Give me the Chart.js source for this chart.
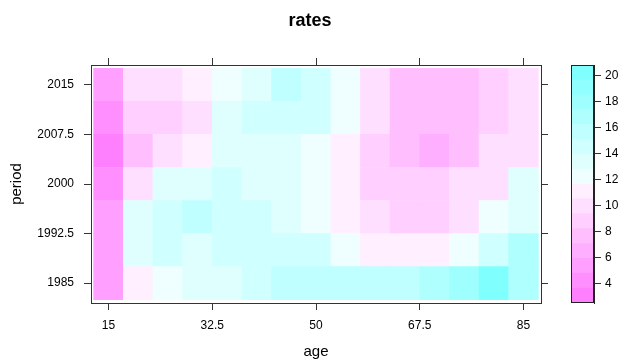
<!DOCTYPE html>
<html>
<head>
<meta charset="utf-8">
<script src="https://cdn.jsdelivr.net/npm/chart.js@4/dist/chart.umd.min.js"></script>
<style>
html, body { margin: 0; padding: 0; background: #fff; }
#wrap { position: relative; width: 620px; height: 363px; }
#main { position: absolute; left: 0; top: 0; }
#key { position: absolute; left: 571px; top: 0; }
</style>
</head>
<body>
<div id="wrap">
  <canvas id="main" width="620" height="363"></canvas>
  <canvas id="key" width="49" height="363"></canvas>
</div>
<script>
const ages = [15, 20, 25, 30, 35, 40, 45, 50, 55, 60, 65, 70, 75, 80, 85]
const periods = [1985, 1990, 1995, 2000, 2005, 2010, 2015]

// rates by age, one array per period
const rates1985 = [5.6, 11.0, 12.2, 13.4, 13.3, 14.6, 15.6, 15.8, 15.7, 15.8, 15.9, 16.7, 18.1, 20.2, 16.8]
const rates1990 = [5.4, 13.3, 14.6, 13.5, 14.5, 14.4, 14.7, 14.4, 12.3, 11.1, 11.0, 11.2, 12.1, 14.7, 16.9]
const rates1995 = [5.5, 13.4, 14.4, 15.8, 14.5, 14.6, 13.3, 12.3, 11.2, 10.0, 8.8, 8.9, 10.1, 12.2, 13.4]
const rates2000 = [4.1, 10.0, 13.4, 13.1, 14.6, 13.4, 13.2, 12.2, 11.0, 8.9, 8.7, 8.8, 9.9, 10.2, 13.5]
const rates2005 = [3.2, 7.8, 9.8, 11.2, 13.3, 13.5, 13.2, 12.3, 11.1, 8.8, 7.6, 6.6, 7.8, 10.1, 9.9]
const rates2010 = [4.3, 8.7, 8.9, 10.1, 13.5, 14.4, 14.7, 14.5, 12.4, 9.9, 7.7, 7.9, 7.6, 8.6, 10.0]
const rates2015 = [5.3, 9.9, 10.2, 11.0, 12.3, 13.2, 15.6, 14.6, 12.1, 10.1, 7.6, 7.8, 7.5, 8.9, 9.8]
const rateRows = [rates1985, rates1990, rates1995, rates2000, rates2005, rates2010, rates2015]

const ageTicks = [15, 32.5, 50, 67.5, 85]
const periodTicks = [1985, 1992.5, 2000, 2007.5, 2015]
const keyTicks = [4, 6, 8, 10, 12, 14, 16, 18, 20]
const keyMin = 2.52
const keyMax = 20.82
const keyBins = 16

const binWidth = (keyMax - keyMin) / keyBins

// reversed cm.colors: magenta (low) -> white -> cyan (high)
const binColor = k => {
  if (k < keyBins / 2) {
    const s = 0.5 - k * (0.5 / (keyBins / 2))
    const g = Math.round(255 * (1 - s))
    return `rgb(255,${g},255)`
  }
  const s = (k - (keyBins / 2 - 1)) * (0.5 / (keyBins / 2))
  const r = Math.round(255 * (1 - s))
  return `rgb(${r},255,255)`
}
const rateColor = v => {
  const k = Math.min(keyBins - 1, Math.max(0, Math.floor((v - keyMin) / binWidth)))
  return binColor(k)
}

Chart.defaults.font.family = '"Liberation Sans", Arial, sans-serif'
Chart.defaults.color = '#000'
Chart.defaults.animation = false

const frameColor = '#333'
const tickLabel = v => String(v)

const edgeGrid = {
  drawOnChartArea: false,
  drawTicks: true,
  tickLength: 7,
  tickColor: frameColor,
  tickWidth: 1,
  offset: false
}

new Chart(document.getElementById('main'), {
  type: 'bar',
  data: {
    datasets: rateRows.map((row, j) => ({
      label: String(periods[j]),
      data: ages.map(a => ({ x: a, y: [periods[j] - 2.5, periods[j] + 2.5] })),
      backgroundColor: row.map(rateColor),
      borderWidth: 0,
      grouped: false,
      barPercentage: 1,
      categoryPercentage: 1
    }))
  },
  options: {
    responsive: false,
    layout: { padding: 0 },
    plugins: {
      legend: { display: false },
      tooltip: { enabled: false },
      title: {
        display: true,
        text: 'rates',
        color: '#000',
        font: { size: 18, weight: 'bold' },
        padding: { top: 10, bottom: 4 }
      }
    },
    scales: {
      x: {
        type: 'linear',
        position: 'bottom',
        min: 12.05,
        max: 87.95,
        offset: false,
        afterBuildTicks: s => { s.ticks = ageTicks.map(v => ({ value: v })) },
        afterFit: s => { s.height = 60 },
        ticks: { callback: tickLabel, font: { size: 12 }, padding: 8, maxRotation: 0, autoSkip: false },
        grid: edgeGrid,
        border: { display: true, color: frameColor, width: 1 },
        title: { display: true, text: 'age', font: { size: 15 }, padding: { top: 0, bottom: 2 } }
      },
      x2: {
        type: 'linear',
        position: 'top',
        min: 12.05,
        max: 87.95,
        offset: false,
        afterBuildTicks: s => { s.ticks = ageTicks.map(v => ({ value: v })) },
        afterFit: s => { s.height = 29.4 },
        ticks: { display: false },
        grid: edgeGrid,
        border: { display: true, color: frameColor, width: 1 }
      },
      y: {
        type: 'linear',
        position: 'left',
        min: 1982.0,
        max: 2018.0,
        afterBuildTicks: s => { s.ticks = periodTicks.map(v => ({ value: v })) },
        afterFit: s => { s.width = 91 },
        ticks: { callback: tickLabel, font: { size: 12 }, padding: 10, autoSkip: false },
        grid: edgeGrid,
        border: { display: true, color: frameColor, width: 1 },
        title: { display: true, text: 'period', font: { size: 15 }, padding: { top: 8, bottom: 0 } }
      },
      y2: {
        type: 'linear',
        position: 'right',
        min: 1982.0,
        max: 2018.0,
        afterBuildTicks: s => { s.ticks = periodTicks.map(v => ({ value: v })) },
        afterFit: s => { s.width = 79 },
        ticks: { display: false },
        grid: edgeGrid,
        border: { display: true, color: frameColor, width: 1 }
      }
    }
  }
})

// colour key
const keyFrame = {
  id: 'keyFrame',
  afterDraw (chart) {
    const { ctx, chartArea } = chart
    ctx.save()
    ctx.strokeStyle = '#222'
    ctx.lineWidth = 1
    ctx.strokeRect(chartArea.left + 0.5, chartArea.top + 0.5, chartArea.width - 1, chartArea.height - 1)
    ctx.restore()
  }
}

const keyBinIndex = Array.from({ length: keyBins }, (_, k) => k)

new Chart(document.getElementById('key'), {
  type: 'bar',
  data: {
    labels: [''],
    datasets: keyBinIndex.map(k => ({
      data: [[keyMin + k * binWidth, keyMin + (k + 1) * binWidth]],
      backgroundColor: binColor(k),
      borderWidth: 0,
      grouped: false,
      barPercentage: 1,
      categoryPercentage: 1
    }))
  },
  options: {
    responsive: false,
    layout: { padding: { top: 65, bottom: 60, left: 0, right: 0 } },
    plugins: { legend: { display: false }, tooltip: { enabled: false } },
    scales: {
      x: { display: false },
      y: {
        position: 'right',
        min: keyMin,
        max: keyMax,
        afterBuildTicks: s => { s.ticks = keyTicks.map(v => ({ value: v })) },
        afterFit: s => { s.width = 26 },
        ticks: { callback: tickLabel, font: { size: 12 }, padding: 4, autoSkip: false },
        grid: { drawOnChartArea: false, drawTicks: true, tickLength: 7, tickColor: frameColor },
        border: { display: true, color: '#222', width: 1 }
      }
    }
  },
  plugins: [keyFrame]
})
</script>
</body>
</html>
